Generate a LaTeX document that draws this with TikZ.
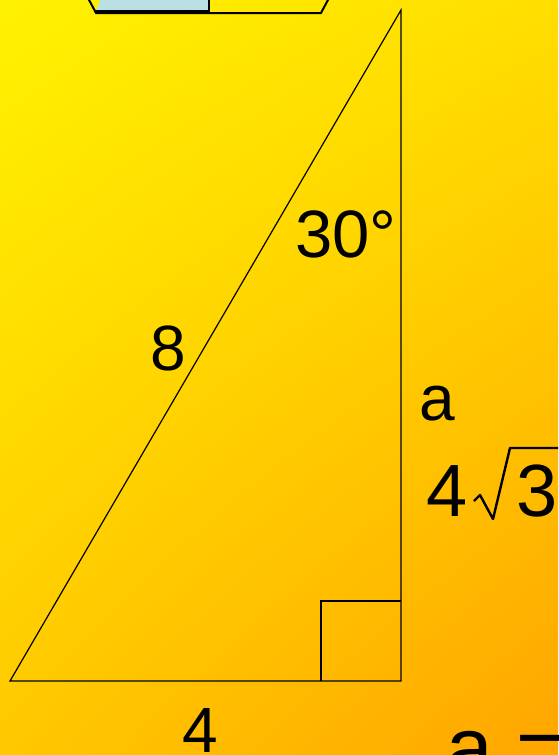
\documentclass[tikz,border=0pt]{standalone}
\usepackage{fontspec}
\setmainfont{Liberation Sans}
\usetikzlibrary{positioning, shadings}

\definecolor{bgTL}{RGB}{255,242,0}
\definecolor{bgTR}{RGB}{255,222,0}
\definecolor{bgBL}{RGB}{255,200,0}
\definecolor{bgBR}{RGB}{255,165,0}
\definecolor{paneblue}{RGB}{186,224,228}

\begin{document}
\begin{tikzpicture}[
    x=1pt, y=-1pt,
    % --- styles ---
    edge/.style = {draw=black, line width=1.2pt},
    frame/.style = {draw=black, line width=2pt, line join=miter},
    radical/.style = {draw=black, line width=2.4pt, line join=round},
    lbl/.style = {inner sep=0pt, anchor=base, font=\fontsize{64}{70}\selectfont},
    biglbl/.style = {inner sep=0pt, anchor=base west, font=\fontsize{74}{80}\selectfont}
]

% ==================== BACKGROUND ====================
\useasboundingbox (0,0) rectangle (558,755);
\clip (0,0) rectangle (558,755);
\shade[upper left=bgTL, upper right=bgTR, lower left=bgBL, lower right=bgBR]
    (0,0) rectangle (558,755);

% ==================== TOP SHAPE ====================
\fill[paneblue] (101,-2) -- (96,11) -- (209,11) -- (209,-2) -- cycle;
\draw[frame] (96,11) -- (209,11) -- (209,-2);
\draw[frame] (88,-2) -- (96,13) -- (321,13) -- (329,-2);

% ==================== TRIANGLE ====================
\coordinate (A) at (10,681);
\coordinate (B) at (401,681);
\coordinate (C) at (401,10);

\draw[edge] (A) -- (B) -- (C) -- cycle;
\draw[edge] (321,681) |- (401,601);

% ==================== LABELS ====================
\node[lbl, font=\fontsize{67}{72}\selectfont] (angle) at (346,257) {30°};
\node[lbl] (hyp) at (168,370) {8};
\node[lbl] (base) at (200,752) {4};
\node[lbl] (side) at (437,420) {a};

% side value 4 sqrt 3
\node[biglbl] (coef) at (426,516) {4};
\node[biglbl] (root) at (516,516) {3};
\draw[radical] (474,501) -- (480,495) -- (493,519) -- (510,448) -- (562,448);

\node[lbl, font=\fontsize{84}{90}\selectfont, anchor=base west] (result) at (446,776) {a =};

\end{tikzpicture}
\end{document}
